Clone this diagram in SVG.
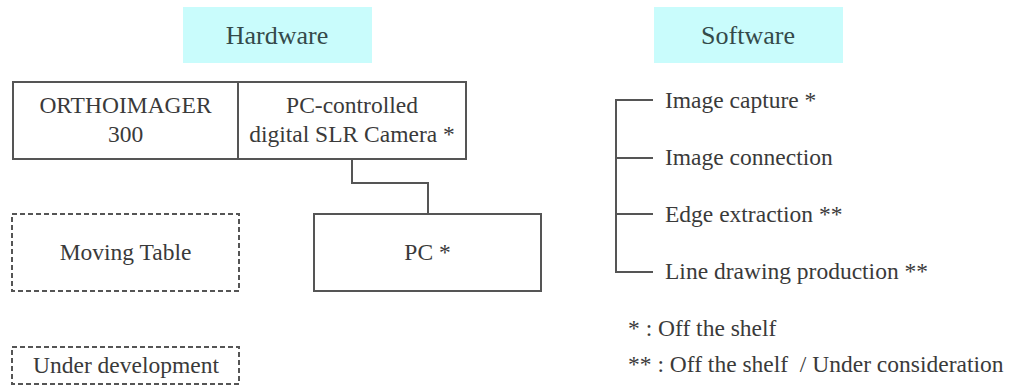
<svg xmlns="http://www.w3.org/2000/svg" width="1013" height="387" viewBox="0 0 1013 387">
<style>
text{font-family:"Liberation Serif",Tinos,"Times New Roman","DejaVu Serif",serif;font-size:23.5px;fill:#3a3a3a}
.hdr{font-size:26px;fill:#344a4a;text-anchor:middle}
.c{text-anchor:middle}
.hbox{fill:#c9fcfc}
.box{fill:#fff;stroke:#555;stroke-width:2}
.dash{fill:#fff;stroke:#555;stroke-width:2;stroke-dasharray:5 3}
.ln{fill:none;stroke:#555;stroke-width:2}
</style>
<rect width="1013" height="387" fill="#fff"/>
<g id="hardware-label">
<rect class="hbox" x="183" y="7" width="189" height="56"/>
<text class="hdr" x="277" y="44">Hardware</text>
</g>
<g id="software-label">
<rect class="hbox" x="654" y="7" width="189" height="56"/>
<text class="hdr" x="748" y="44">Software</text>
</g>
<g id="orthoimager">
<rect class="box" x="13" y="82" width="225" height="77"/>
<text class="c" x="125.5" y="113">ORTHOIMAGER</text>
<text class="c" x="125.5" y="142">300</text>
</g>
<g id="camera">
<rect class="box" x="238" y="82" width="228" height="77"/>
<text class="c" x="352" y="113">PC-controlled</text>
<text class="c" x="352" y="142">digital SLR Camera *</text>
</g>
<g id="pc">
<rect class="box" x="314" y="214" width="227" height="77"/>
<text class="c" x="427.5" y="260">PC *</text>
</g>
<g id="moving-table">
<rect class="dash" x="12" y="214" width="227" height="77"/>
<text class="c" x="125.5" y="260">Moving Table</text>
</g>
<g id="legend-dev">
<rect class="dash" x="12" y="347" width="227" height="37"/>
<text class="c" x="126" y="373">Under development</text>
</g>
<g id="connectors">
<polyline class="ln" points="352,159 352,183 428,183 428,214"/>
<polyline class="ln" points="653,100 616,100 616,272 653,272"/>
<line class="ln" x1="616" y1="158" x2="653" y2="158"/>
<line class="ln" x1="616" y1="214" x2="653" y2="214"/>
</g>
<g id="sw-image-capture"><text x="665" y="108">Image capture *</text></g>
<g id="sw-image-connection"><text x="665" y="165">Image connection</text></g>
<g id="sw-edge-extraction"><text x="665" y="222">Edge extraction **</text></g>
<g id="sw-line-drawing"><text x="665" y="279">Line drawing production **</text></g>
<g id="legend">
<text x="628" y="336">* : Off the shelf</text>
<text x="628" y="372" xml:space="preserve">** : Off the shelf  / Under consideration</text>
</g>
</svg>
